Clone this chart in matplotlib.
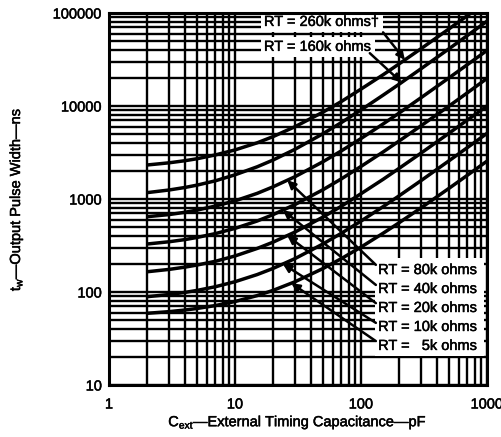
import matplotlib
matplotlib.use("Agg")
import matplotlib.pyplot as plt
import matplotlib.patheffects as pe
from matplotlib.patches import Rectangle
import numpy as np

# external timing capacitance, pF
cext = [2, 3, 4, 5, 7, 10, 15, 20, 30, 50, 70, 100, 150, 200, 300, 500, 700, 1000]

# output pulse width, ns
rt_260k = [2320, 2450, 2580, 2710, 2980, 3370, 4020, 4680, 6000, 8600, 11200, 15200, 21700, 28300, 41400, 67600, 93800, 133000]
rt_160k = [1170, 1250, 1330, 1410, 1570, 1820, 2220, 2620, 3430, 5040, 6650, 9070, 13100, 17100, 25200, 41300, 57400, 81600]
rt_80k  = [645, 680, 720, 760, 840, 955, 1150, 1350, 1740, 2520, 3300, 4470, 6420, 8370, 12300, 20100, 27900, 39600]
rt_40k  = [328, 347, 366, 386, 425, 483, 580, 678, 873, 1260, 1650, 2240, 3210, 4190, 6140, 10000, 13900, 19800]
rt_20k  = [165, 175, 185, 195, 214, 244, 294, 343, 442, 640, 838, 1140, 1630, 2130, 3120, 5100, 7080, 10000]
rt_10k  = [89, 94, 99, 104, 114, 129, 154, 179, 229, 329, 429, 579, 829, 1079, 1579, 2579, 3579, 5079]
rt_5k   = [59, 61.5, 64, 66.5, 71.5, 79, 91.5, 104, 129, 179, 229, 304, 429, 554, 804, 1304, 1804, 2554]

curves = [rt_260k, rt_160k, rt_80k, rt_40k, rt_20k, rt_10k, rt_5k]
labels = ["RT = 260k ohms\u2020", "RT = 160k ohms", "RT = 80k ohms", "RT = 40k ohms",
          "RT = 20k ohms", "RT = 10k ohms", "RT =   5k ohms"]
# capacitance where each label's arrow touches its curve
arrow_c = [223, 210, 26, 24, 26, 24, 28]

plt.rcParams['font.family'] = ['Liberation Sans', 'DejaVu Sans']
plt.rcParams['font.size'] = 10.5
plt.rcParams['mathtext.fontset'] = 'custom'
plt.rcParams['mathtext.rm'] = 'Liberation Sans'

bold = [pe.withStroke(linewidth=0.35, foreground='black')]

fig = plt.figure(figsize=(5.02, 4.37), dpi=100)
ax = fig.add_axes([109 / 502, 52 / 437, 378 / 502, 372 / 437])

for ys in curves:
    ax.plot(cext, ys, color='black', lw=2.5, zorder=3, solid_capstyle='butt')

ax.set_xscale('log')
ax.set_yscale('log')
ax.set_xlim(1, 1000)
ax.set_ylim(10, 100000)
ax.grid(True, which='both', color='black', lw=1.7)
ax.set_axisbelow(True)
for s in ax.spines.values():
    s.set_linewidth(2.2)
    s.set_zorder(6)

ax.set_xticks([1, 10, 100, 1000])
ax.set_xticklabels(['1', '10', '100', '1000'])
ax.set_yticks([10, 100, 1000, 10000, 100000])
ax.set_yticklabels(['10', '100', '1000', '10000', '100000'])
ax.tick_params(which='both', length=0)
ax.tick_params(axis='x', pad=9)
ax.tick_params(axis='y', pad=5)
for t in ax.get_xticklabels() + ax.get_yticklabels():
    t.set_path_effects(bold)

xl = ax.set_xlabel('C$_{\\rm ext}$\u2014External Timing Capacitance\u2014pF')
yl = ax.set_ylabel('t$_{\\rm w}$\u2014Output Pulse Width\u2014ns')
xl.set_path_effects(bold)
yl.set_path_effects(bold)
ax.xaxis.set_label_coords(0.5, -0.076)
ax.yaxis.set_label_coords(-0.222, 0.5)

# white panel behind the lower labels
ax.add_patch(Rectangle((0.704, 0.078), 0.288, 0.263, transform=ax.transAxes,
                       facecolor='white', edgecolor='none', zorder=4))

def on_curve(ys, c):
    return 10 ** np.interp(np.log10(c), np.log10(cext), np.log10(ys))

arrow_style = dict(arrowstyle='-|>', color='black', lw=1.8,
                   mutation_scale=12, shrinkA=0, shrinkB=0)

# top labels
top_text = [(0.410, 0.976), (0.410, 0.909)]
top_tail = [(0.725, 0.948), (0.690, 0.892)]
for i in range(2):
    ax.text(*top_text[i], labels[i], transform=ax.transAxes, va='center', ha='left',
            zorder=5, bbox=dict(fc='white', ec='none', pad=2), path_effects=bold)
    ax.annotate('', xy=(arrow_c[i], on_curve(curves[i], arrow_c[i])), xycoords='data',
                xytext=top_tail[i], textcoords='axes fraction',
                arrowprops=arrow_style, zorder=5)

# lower labels
low_y = [0.309, 0.258, 0.207, 0.156, 0.105]
low_tail = [0.323, 0.269, 0.220, 0.167, 0.118]
for j, i in enumerate(range(2, 7)):
    ax.text(0.712, low_y[j], labels[i], transform=ax.transAxes, va='center', ha='left',
            zorder=5, path_effects=bold)
    ax.annotate('', xy=(arrow_c[i], on_curve(curves[i], arrow_c[i])), xycoords='data',
                xytext=(0.706, low_tail[j]), textcoords='axes fraction',
                arrowprops=arrow_style, zorder=5)

fig.savefig('out.png', dpi=100)
